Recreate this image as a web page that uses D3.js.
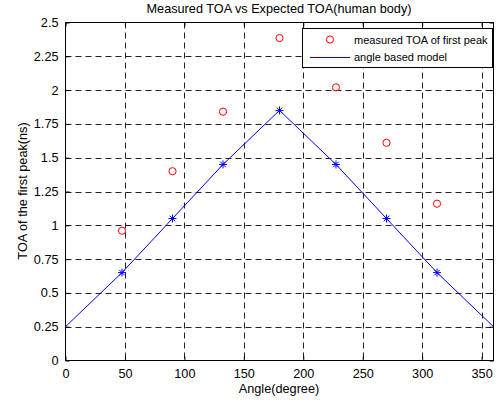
<!DOCTYPE html>
<html><head><meta charset="utf-8">
<script src="https://cdn.jsdelivr.net/npm/d3@7"></script>
<style>body{margin:0;background:#fff}svg{display:block;font-family:"Liberation Sans",Arial,sans-serif}</style>
</head><body><svg id="c" width="497" height="401"></svg>
<script>
const xTicks = [0,50,100,150,200,250,300,350];
const yTicks = [0,0.25,0.5,0.75,1,1.25,1.5,1.75,2,2.25,2.5];
const yTickLabels = ["0","0.25","0.5","0.75","1","1.25","1.5","1.75","2","2.25","2.5"];
const measuredAngle = [47.5,90,132.5,180,227.5,270,312.5];
const measuredTOA = [0.96,1.40,1.84,2.385,2.02,1.61,1.16];
const modelAngle = [0,47.5,90,132.5,180,227.5,270,312.5,360];
const modelTOA = [0.25,0.65,1.05,1.45,1.85,1.45,1.05,0.65,0.25];
const starAngle = [47.5,90,132.5,180,227.5,270,312.5];
const starTOA = [0.65,1.05,1.45,1.85,1.45,1.05,0.65];
const legendLabels = ["measured TOA of first peak","angle based model"];

const svg = d3.select("#c");
const L=65.5,R=493.5,T=22.5,B=360.5;
const x = d3.scaleLinear().domain([0,360]).range([L,R]);
const y = d3.scaleLinear().domain([0,2.5]).range([B,T]);

svg.append("rect").attr("x",L).attr("y",T).attr("width",R-L).attr("height",B-T).attr("fill","#fff");

// grid
const g = svg.append("g");
g.selectAll(".gx").data(xTicks.filter(d=>d>0)).enter().append("line")
 .attr("x1",d=>Math.round(x(d))+0.5).attr("x2",d=>Math.round(x(d))+0.5).attr("y1",T).attr("y2",B)
 .attr("stroke","#222").attr("stroke-dasharray","6,4");
g.selectAll(".gy").data(yTicks.filter(d=>d>0&&d<2.5)).enter().append("line")
 .attr("y1",d=>Math.round(y(d))+0.5).attr("y2",d=>Math.round(y(d))+0.5).attr("x1",L).attr("x2",R)
 .attr("stroke","#222").attr("stroke-dasharray","6,4");

// axes with inward ticks
const fs = "12.7px";
const xb = svg.append("g").attr("transform",`translate(0,${B})`)
 .call(d3.axisBottom(x).tickValues(xTicks).tickSizeInner(-4).tickSizeOuter(0).tickPadding(8));
const xt = svg.append("g").attr("transform",`translate(0,${T})`)
 .call(d3.axisTop(x).tickValues(xTicks).tickSizeInner(-4).tickSizeOuter(0).tickFormat(""));
const yl = svg.append("g").attr("transform",`translate(${L},0)`)
 .call(d3.axisLeft(y).tickValues(yTicks).tickSizeInner(-4).tickSizeOuter(0).tickPadding(7).tickFormat((d,i)=>yTickLabels[i]));
const yr = svg.append("g").attr("transform",`translate(${R},0)`)
 .call(d3.axisRight(y).tickValues(yTicks).tickSizeInner(-4).tickSizeOuter(0).tickFormat(""));
[xb,xt,yl,yr].forEach(a=>{a.select(".domain").remove();a.selectAll("line").attr("stroke","#000");
 a.selectAll("text").attr("fill","#000").style("font-size",fs).style("font-family","Liberation Sans, Arial, sans-serif");});

// frame
svg.append("rect").attr("x",L).attr("y",T).attr("width",R-L).attr("height",B-T).attr("fill","none").attr("stroke","#000");

// model line
const line = d3.line().x((d,i)=>x(modelAngle[i])).y(d=>y(d));
svg.append("path").datum(modelTOA).attr("d",line).attr("fill","none").attr("stroke","#0000ff").attr("stroke-width",1);

// star markers
const star = (sx,sy,s)=>`M${sx-s},${sy}L${sx+s},${sy}M${sx},${sy-s}L${sx},${sy+s}M${sx-s*0.7},${sy-s*0.7}L${sx+s*0.7},${sy+s*0.7}M${sx-s*0.7},${sy+s*0.7}L${sx+s*0.7},${sy-s*0.7}`;
svg.selectAll(".st").data(starTOA).enter().append("path")
 .attr("d",(d,i)=>star(x(starAngle[i]),y(d),4)).attr("stroke","#0000ff").attr("stroke-width",1).attr("fill","none");

// measured circles
svg.selectAll(".ci").data(measuredTOA).enter().append("circle")
 .attr("cx",(d,i)=>x(measuredAngle[i])).attr("cy",d=>y(d)).attr("r",3.6)
 .attr("fill","none").attr("stroke","#ff0000").attr("stroke-width",1);

// legend
const lg = svg.append("g");
lg.append("rect").attr("x",302.5).attr("y",28.5).attr("width",190).attr("height",39).attr("fill","#fff").attr("stroke","#000");
lg.append("circle").attr("cx",330).attr("cy",39.5).attr("r",3.6).attr("fill","none").attr("stroke","#ff0000");
lg.append("line").attr("x1",310).attr("x2",350).attr("y1",57.5).attr("y2",57.5).attr("stroke","#0000ff");
lg.selectAll("text").data(legendLabels).enter().append("text")
 .attr("x",354).attr("y",(d,i)=>43.5+i*17.5).text(d=>d).style("font-size","11px").attr("fill","#000");

// titles
svg.append("text").attr("x",279).attr("y",13).attr("text-anchor","middle").style("font-size",fs).text("Measured TOA vs Expected TOA(human body)");
svg.append("text").attr("x",279).attr("y",393).attr("text-anchor","middle").style("font-size",fs).text("Angle(degree)");
svg.append("text").attr("transform","translate(27,191) rotate(-90)").attr("text-anchor","middle").style("font-size",fs).text("TOA of the first peak(ns)");
</script></body></html>
